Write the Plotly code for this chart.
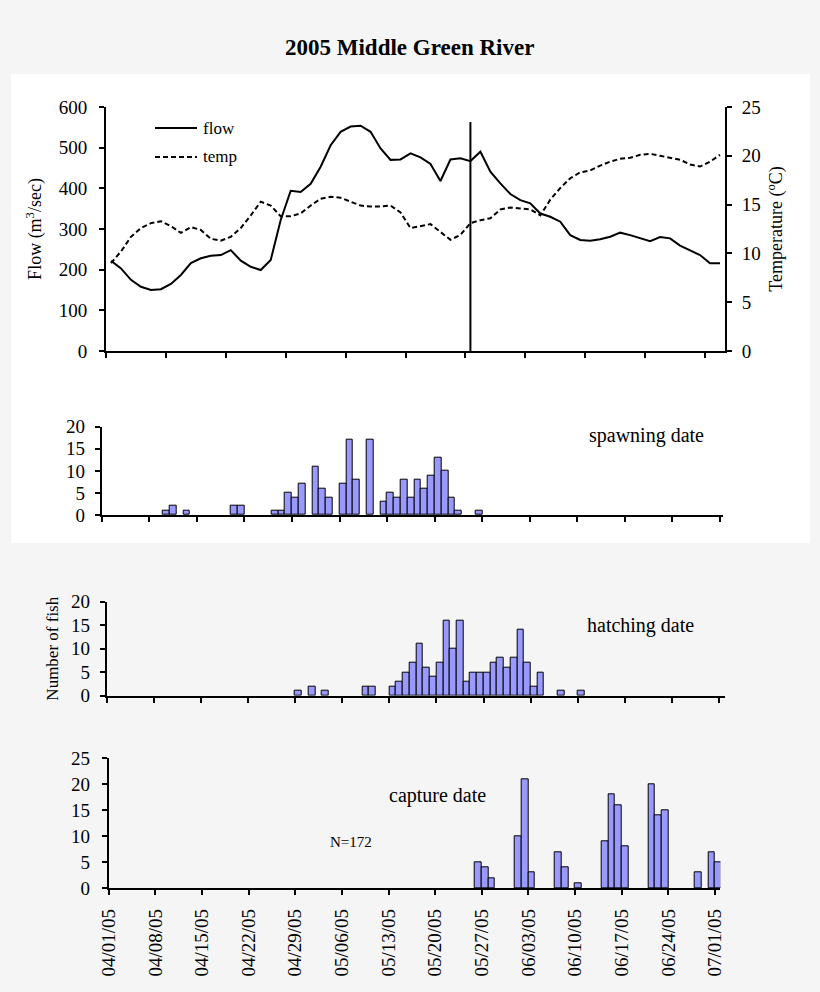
import pandas as pd
import plotly.graph_objects as go

W, H = 820, 992
FONT = "Liberation Serif, Times New Roman, serif"
BAR_COLOR = "#9999ff"

# flow / temperature series (one value per plotting step on the top panel)
flow = [222, 203, 175, 158, 150, 152, 165, 187, 216, 228, 234, 236, 248, 222, 207, 199,
        224, 322, 394, 391, 411, 453, 506, 539, 552, 554, 539, 498, 470, 471, 486, 476,
        460, 418, 471, 474, 467, 490, 441, 412, 386, 371, 363, 338, 330, 318, 285, 273,
        271, 275, 281, 291, 285, 277, 270, 280, 277, 259, 248, 236, 216, 216]
temp = [9.0, 10.2, 11.7, 12.6, 13.1, 13.3, 12.8, 12.1, 12.7, 12.4, 11.5, 11.3, 11.7, 12.6,
        13.9, 15.3, 14.9, 13.8, 13.8, 14.1, 14.9, 15.6, 15.8, 15.7, 15.3, 14.9, 14.8, 14.8,
        14.9, 14.2, 12.6, 12.8, 13.0, 12.2, 11.4, 11.9, 13.1, 13.4, 13.6, 14.5, 14.7, 14.6,
        14.5, 13.9, 15.5, 16.7, 17.7, 18.3, 18.5, 19.0, 19.4, 19.7, 19.8, 20.1, 20.2, 20.0,
        19.8, 19.6, 19.1, 18.9, 19.4, 20.1]
marker_step = 36
marker_top = 563

# daily counts of fish
spawn_dates = ["04/10/05", "04/11/05", "04/13/05", "04/20/05", "04/21/05", "04/26/05",
               "04/27/05", "04/28/05", "04/29/05", "04/30/05", "05/02/05", "05/03/05",
               "05/04/05", "05/06/05", "05/07/05", "05/08/05", "05/10/05", "05/12/05",
               "05/13/05", "05/14/05", "05/15/05", "05/16/05", "05/17/05", "05/18/05",
               "05/19/05", "05/20/05", "05/21/05", "05/22/05", "05/23/05", "05/26/05"]
spawn_counts = [1, 2, 1, 2, 2, 1, 1, 5, 4, 7, 11, 6, 4, 7, 17, 8, 17, 3, 5, 4, 8, 4, 8, 6,
                9, 13, 10, 4, 1, 1]

hatch_dates = ["04/29/05", "05/01/05", "05/03/05", "05/09/05", "05/10/05", "05/13/05",
               "05/14/05", "05/15/05", "05/16/05", "05/17/05", "05/18/05", "05/19/05",
               "05/20/05", "05/21/05", "05/22/05", "05/23/05", "05/24/05", "05/25/05",
               "05/26/05", "05/27/05", "05/28/05", "05/29/05", "05/30/05", "05/31/05",
               "06/01/05", "06/02/05", "06/03/05", "06/04/05", "06/07/05", "06/10/05"]
hatch_counts = [1, 2, 1, 2, 2, 2, 3, 5, 7, 11, 6, 4, 7, 16, 10, 16, 3, 5, 5, 5, 7, 8, 6, 8,
                14, 7, 2, 5, 1, 1]

capture_dates = ["05/26/05", "05/27/05", "05/28/05", "06/01/05", "06/02/05", "06/03/05",
                 "06/07/05", "06/08/05", "06/10/05", "06/14/05", "06/15/05", "06/16/05",
                 "06/17/05", "06/21/05", "06/22/05", "06/23/05", "06/28/05", "06/30/05",
                 "07/01/05"]
capture_counts = [5, 4, 2, 10, 21, 3, 7, 4, 1, 9, 18, 16, 8, 20, 14, 15, 3, 7, 5]


def px(x):
    return x / W


def py(y):
    return 1 - y / H


def day_bars(dates, counts, xa, ya):
    # each day's bar fills the space from that date to the next one
    d = pd.to_datetime(dates, format="%m/%d/%y") + pd.Timedelta(hours=12)
    return go.Bar(x=d, y=counts, width=86400000, xaxis=xa, yaxis=ya,
                  marker=dict(color=BAR_COLOR, line=dict(color="black", width=1)),
                  showlegend=False)


fig = go.Figure()
steps = [i + 0.5 for i in range(len(flow))]
fig.add_trace(go.Scatter(x=steps, y=flow, mode="lines", name="flow",
                         line=dict(color="black", width=2), xaxis="x", yaxis="y"))
fig.add_trace(go.Scatter(x=steps, y=temp, mode="lines", name="temp",
                         line=dict(color="black", width=2, dash="5px,3px"),
                         xaxis="x", yaxis="y2"))
fig.add_trace(day_bars(spawn_dates, spawn_counts, "x2", "y3"))
fig.add_trace(day_bars(hatch_dates, hatch_counts, "x3", "y4"))
fig.add_trace(day_bars(capture_dates, capture_counts, "x4", "y5"))

tickfont = dict(family=FONT, size=19, color="black")
axis_common = dict(showline=True, linecolor="black", linewidth=2, ticks="outside",
                   ticklen=5, tickwidth=2, tickcolor="black", showgrid=False,
                   zeroline=False, tickfont=tickfont, automargin=False)

WEEK = 7 * 86400000
start = pd.Timestamp("2005-04-01")


def date_axis(x0, per_day, days, anchor, labels=False):
    ax = dict(axis_common, type="date", anchor=anchor,
              domain=[px(x0), px(x0 + per_day * days)],
              range=[start, start + pd.Timedelta(days=days)],
              tick0=start, dtick=WEEK, showticklabels=labels)
    if labels:
        ax.update(tickformat="%m/%d/%y", tickangle=-90, ticklabelstandoff=6)
    return ax


fig.update_layout(
    width=W, height=H,
    margin=dict(l=0, r=0, t=0, b=0),
    paper_bgcolor="#f5f5f5", plot_bgcolor="rgba(0,0,0,0)",
    showlegend=False, bargap=0,
    font=dict(family=FONT, color="black"),
    xaxis=dict(axis_common, domain=[px(106), px(725)], range=[0, 62],
               tickvals=list(range(0, 61, 6)), showticklabels=False, anchor="y"),
    yaxis=dict(axis_common, domain=[py(351), py(107)], range=[0, 600], dtick=100,
               anchor="x", ticklabelstandoff=8,
               title=dict(text="Flow (m<sup>3</sup>/sec)", standoff=12,
                          font=dict(family=FONT, size=18))),
    yaxis2=dict(axis_common, overlaying="y", side="right", range=[0, 25], dtick=5,
                anchor="x", ticklabelstandoff=6,
                title=dict(text="Temperature (<sup>o</sup>C)", standoff=10,
                           font=dict(family=FONT, size=18))),
    xaxis2=date_axis(101.7, 6.795, 91.5, "y3"),
    yaxis3=dict(axis_common, domain=[py(515), py(426.7)], range=[0, 20], dtick=5,
                anchor="x2", ticklabelstandoff=6),
    xaxis3=date_axis(106.7, 6.73, 91.9, "y4"),
    yaxis4=dict(axis_common, domain=[py(695.7), py(601.7)], range=[0, 20], dtick=5,
                anchor="x3", ticklabelstandoff=6,
                title=dict(text="Number of fish", standoff=8,
                           font=dict(family=FONT, size=17))),
    xaxis4=date_axis(108.7, 6.663, 91.8, "y5", labels=True),
    yaxis5=dict(axis_common, domain=[py(888.3), py(758.3)], range=[0, 25], dtick=5,
                anchor="x4", ticklabelstandoff=8),
)

# white panel behind the flow and spawning plots
fig.add_shape(type="rect", xref="paper", yref="paper", x0=px(11), x1=px(810),
              y0=py(543), y1=py(74), fillcolor="white", line=dict(width=0), layer="below")

# vertical marker line on the flow plot
fig.add_shape(type="line", xref="x", yref="y", x0=marker_step + 0.5, x1=marker_step + 0.5,
              y0=0, y1=marker_top, line=dict(color="black", width=2))

# legend drawn by hand
for label, ypix, dash in [("flow", 128, "solid"), ("temp", 157, "5px,3px")]:
    fig.add_shape(type="line", xref="paper", yref="paper", x0=px(155), x1=px(197),
                  y0=py(ypix), y1=py(ypix), line=dict(color="black", width=2, dash=dash))
    fig.add_annotation(text=label, xref="paper", yref="paper", x=px(201), y=py(ypix),
                       xanchor="left", yanchor="middle", showarrow=False,
                       font=dict(family=FONT, size=17, color="black"))

notes = [("<b>2005 Middle Green River</b>", 409, 48, 23),
         ("spawning date", 646, 435, 20),
         ("hatching date", 640, 625, 20),
         ("capture date", 437, 795, 20),
         ("N=172", 351, 842, 15)]
for text, xp, yp, size in notes:
    fig.add_annotation(text=text, xref="paper", yref="paper", x=px(xp), y=py(yp),
                       xanchor="center", yanchor="middle", showarrow=False,
                       font=dict(family=FONT, size=size, color="black"))

# drop the browser's default body margin so the figure sits at the page corner
fig.write_html("out.html", config={"displayModeBar": False},
               post_script="document.body.style.margin = '0';")
